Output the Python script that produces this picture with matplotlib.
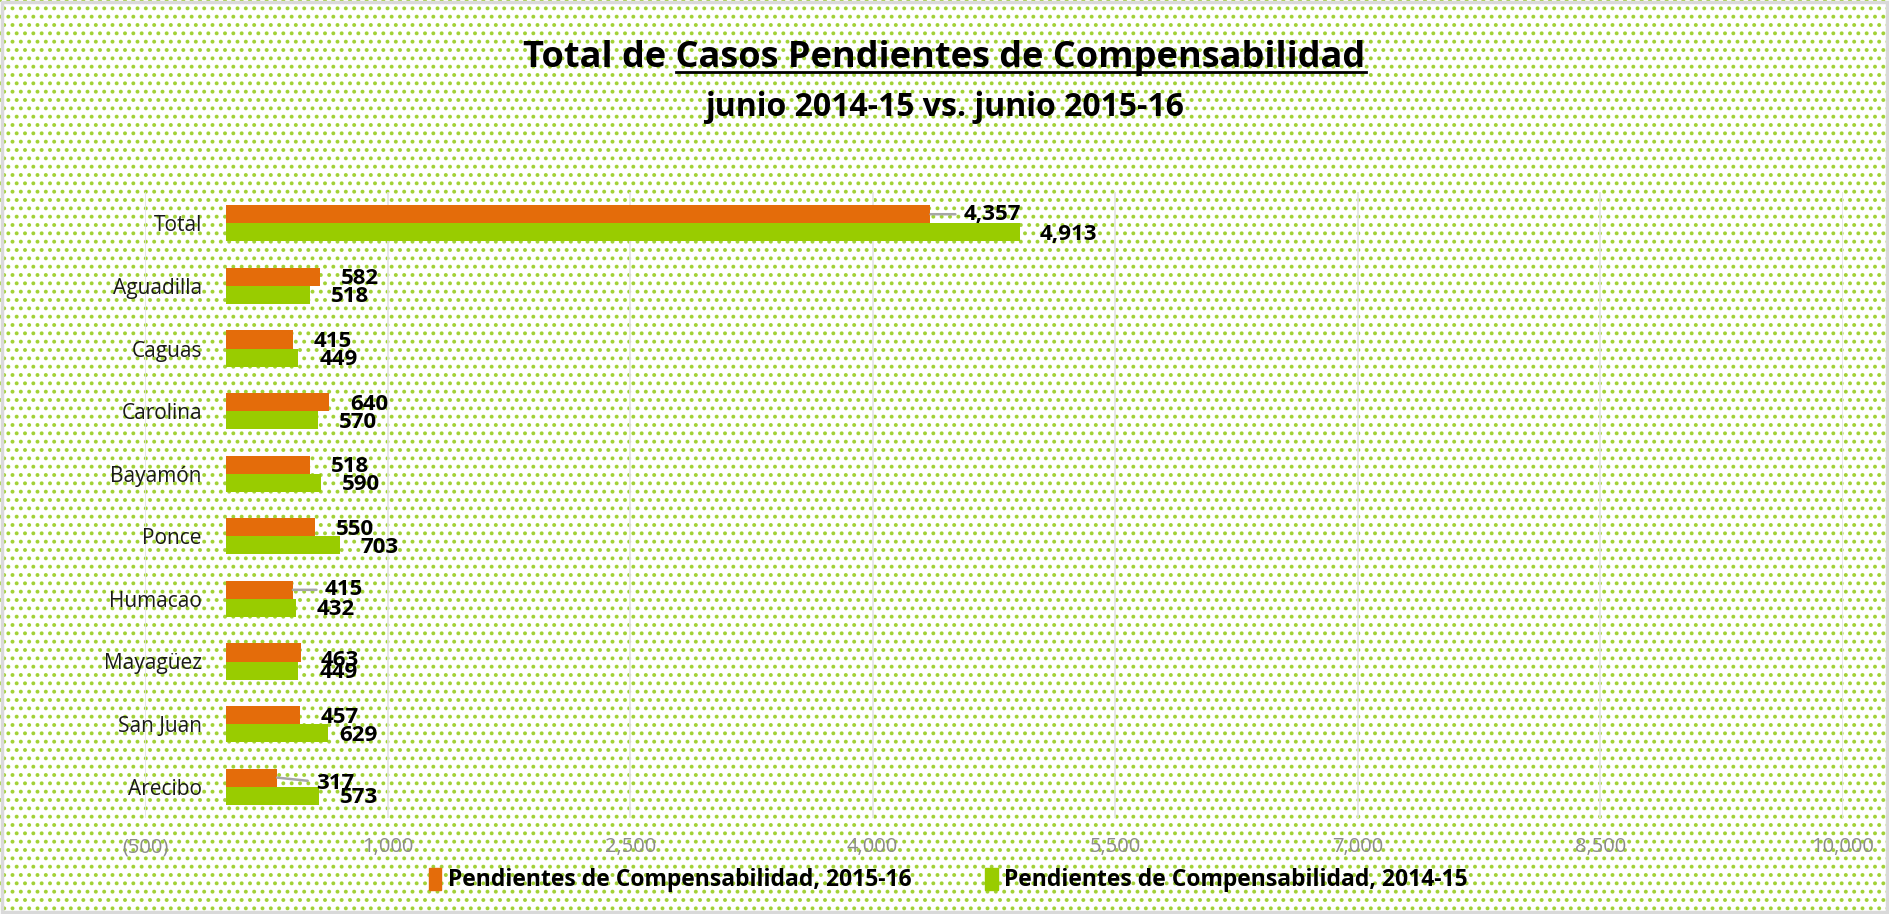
import numpy as np
import matplotlib
matplotlib.use('Agg')
import matplotlib.pyplot as plt
from matplotlib.patches import Rectangle, Patch
from matplotlib.ticker import FuncFormatter

# datos (de abajo hacia arriba, como en el grafico)
regiones = ['Arecibo', 'San Juan', 'Mayagüez', 'Humacao', 'Ponce',
            'Bayamón', 'Carolina', 'Caguas', 'Aguadilla', 'Total']
pend_2015_16 = [317, 457, 463, 415, 550, 518, 640, 415, 582, 4357]
pend_2014_15 = [573, 629, 449, 432, 703, 590, 570, 449, 518, 4913]
serie_a = 'Pendientes de Compensabilidad, 2015-16'
serie_b = 'Pendientes de Compensabilidad, 2014-15'
marcas_x = np.arange(-500, 10001, 1500)

naranja = '#E46C0A'
verde = '#99CC00'
fuente = ['Open Sans', 'DejaVu Sans']

# etiquetas movidas a mano en el original (pixeles: dx, dy)
ajuste_a = {'Total': (62, 0), 'Humacao': (51, 0), 'Arecibo': (58, -6), 'Mayagüez': (39, -8)}
ajuste_b = {'Total': (48, -2), 'San Juan': (31, -2)}
con_linea = ['Total', 'Humacao', 'Arecibo']

plt.rcParams['font.family'] = fuente
plt.rcParams['hatch.linewidth'] = 1.6

fig = plt.figure(figsize=(18.89, 9.14), dpi=100)
fig.patch.set_facecolor('white')
fondo = Rectangle((0, 0), 1, 1, transform=fig.transFigure, facecolor='white',
                  edgecolor='#a2d236', hatch='..', linewidth=0, zorder=-10)
fig.patches.append(fondo)
borde = Rectangle((0.001, 0.002), 0.998, 0.996, transform=fig.transFigure, fill=False,
                  edgecolor='#d9d9d9', linewidth=2.5, zorder=-9)
fig.patches.append(borde)

ax = fig.add_axes([145 / 1889, 1 - 818 / 914, 1698 / 1889, 626 / 914])
ax.set_facecolor('none')

y = np.arange(len(regiones))
h = 0.29
ax.barh(y + h / 2, pend_2015_16, height=h, color=naranja, label=serie_a, zorder=3)
ax.barh(y - h / 2, pend_2014_15, height=h, color=verde, label=serie_b, zorder=3)

for i, reg in enumerate(regiones):
    for val, yy, ajuste, esA in [(pend_2015_16[i], y[i] + h / 2, ajuste_a, True),
                                 (pend_2014_15[i], y[i] - h / 2, ajuste_b, False)]:
        dx, dy = ajuste.get(reg, (40, -2))
        props = None
        if esA and reg in con_linea:
            props = dict(arrowstyle='-', color='#a6a6a6', lw=1.8, shrinkA=4, shrinkB=0)
        ax.annotate(f'{val:,}', xy=(val, yy), xytext=(dx, dy), textcoords='offset pixels',
                    ha='center', va='center', fontsize=16, fontweight='bold',
                    color='black', arrowprops=props, zorder=5)

ax.set_xlim(-500, 10000)
ax.set_ylim(-0.5, len(regiones) - 0.5)
ax.set_xticks(marcas_x)
ax.xaxis.set_major_formatter(FuncFormatter(lambda v, p: f'({abs(int(v)):,})' if v < 0 else f'{int(v):,}'))
ax.set_yticks(y)
ax.set_yticklabels(regiones)
ax.tick_params(axis='x', length=0, pad=14, labelsize=14.5, labelcolor='#8c8c8c')
# las etiquetas del eje y van junto al cero, dentro del area
ax.tick_params(axis='y', length=0, pad=-41, labelsize=15, labelcolor='#1a1a1a')
ax.grid(axis='x', color='#e3e3e3', linewidth=1.2, zorder=0)
ax.set_axisbelow(True)
for s in ax.spines.values():
    s.set_visible(False)

# titulo con subrayado parcial
t1 = fig.text(0.5, 1 - 58 / 914, 'Total de Casos Pendientes de Compensabilidad',
              ha='center', va='center', fontsize=26, fontweight='bold')
fig.text(0.5, 1 - 108 / 914, 'junio 2014-15 vs. junio 2015-16',
         ha='center', va='center', fontsize=23, fontweight='bold')

leg = fig.legend(handles=[Patch(color=naranja), Patch(color=verde)], labels=[serie_a, serie_b],
                 loc='center', bbox_to_anchor=(0.502, 1 - 880 / 914), ncol=2, frameon=False,
                 prop=dict(weight='bold', size=16.5), handlelength=0.55, handleheight=1.1,
                 handletextpad=0.3, columnspacing=3.2)

fig.canvas.draw()
r = fig.canvas.get_renderer()
bb = t1.get_window_extent(r)
tmp = fig.text(0, 0, 'Casos Pendientes de Compensabilidad', fontsize=26, fontweight='bold')
w = tmp.get_window_extent(r).width
tmp.remove()
yl = (bb.y0 + 4) / fig.bbox.height
fig.add_artist(plt.Line2D([(bb.x1 - w) / fig.bbox.width, bb.x1 / fig.bbox.width], [yl, yl],
                          transform=fig.transFigure, color='black', linewidth=2))

fig.savefig('out.png', dpi=100)
